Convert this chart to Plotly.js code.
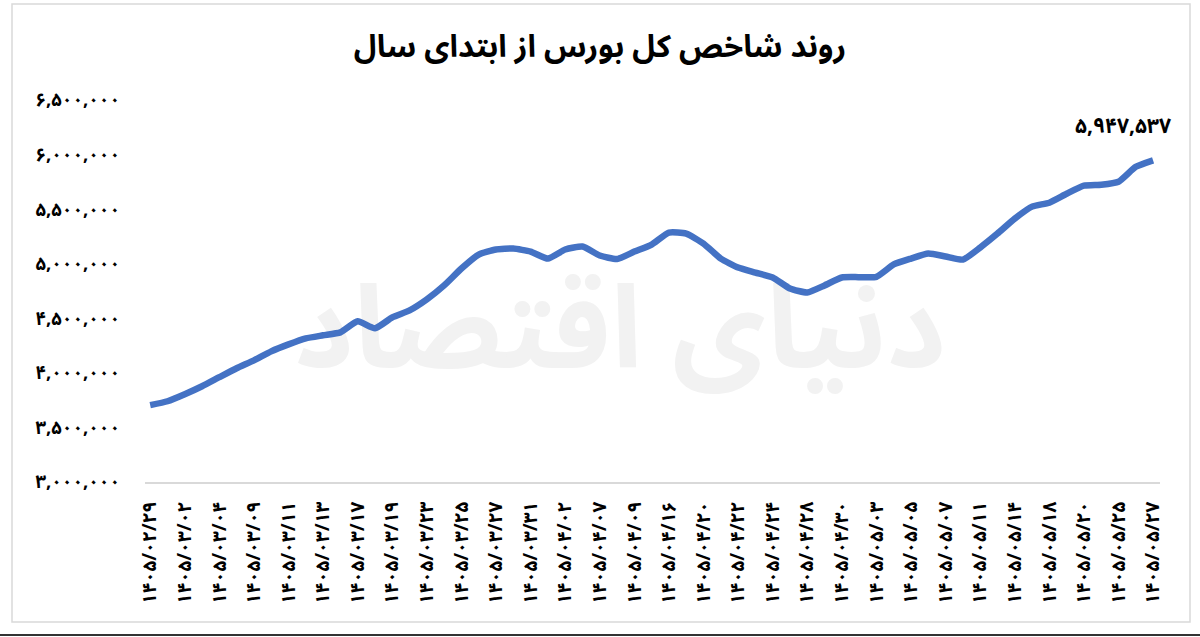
<!DOCTYPE html>
<html><head><meta charset="utf-8">
<script src="https://cdn.plot.ly/plotly-3.0.1.min.js"></script>
<style>
html,body{margin:0;padding:0;background:#fff;}
#wrap{position:relative;width:1200px;height:637px;overflow:hidden;}
#wm{position:absolute;left:620px;top:330px;transform:translate(-50%,-50%);font-family:"Noto Sans Arabic","DejaVu Sans",sans-serif;font-weight:bold;font-size:115px;color:#f2f2f2;direction:rtl;white-space:nowrap;}
#chart{position:absolute;left:0;top:0;width:1200px;height:637px;}
</style></head>
<body><div id="wrap"><div id="wm">دنیای اقتصاد</div><div id="chart"></div></div>
<script>
const dates = [
"1405/02/29","1405/03/01","1405/03/02","1405/03/03","1405/03/04","1405/03/06","1405/03/09","1405/03/10",
"1405/03/11","1405/03/12","1405/03/13","1405/03/16","1405/03/17","1405/03/18","1405/03/19","1405/03/20",
"1405/03/23","1405/03/24","1405/03/25","1405/03/26","1405/03/27","1405/03/30","1405/03/31","1405/04/01",
"1405/04/02","1405/04/06","1405/04/07","1405/04/08","1405/04/09","1405/04/13","1405/04/16","1405/04/17",
"1405/04/20","1405/04/21","1405/04/22","1405/04/23","1405/04/24","1405/04/27","1405/04/28","1405/04/29",
"1405/04/30","1405/05/01","1405/05/03","1405/05/04","1405/05/05","1405/05/06","1405/05/07","1405/05/10",
"1405/05/11","1405/05/13","1405/05/14","1405/05/17","1405/05/18","1405/05/19","1405/05/20","1405/05/24",
"1405/05/25","1405/05/26","1405/05/27"];
const indexValues = [
3704000,3740000,3804000,3877000,3960000,4042000,4115000,4197000,
4261000,4316000,4344000,4371000,4472000,4408000,4508000,4572000,
4673000,4801000,4956000,5084000,5130000,5139000,5111000,5047000,
5130000,5157000,5075000,5043000,5111000,5175000,5285000,5276000,
5184000,5047000,4965000,4919000,4874000,4773000,4737000,4801000,
4874000,4877000,4880000,4993000,5047000,5093000,5066000,5038000,
5148000,5276000,5413000,5523000,5559000,5641000,5715000,5724000,
5751000,5888000,5947537];
const yTickVals = [3000000,3500000,4000000,4500000,5000000,5500000,6000000,6500000];
const yTickText = ["۳,۰۰۰,۰۰۰","۳,۵۰۰,۰۰۰","۴,۰۰۰,۰۰۰","۴,۵۰۰,۰۰۰","۵,۰۰۰,۰۰۰","۵,۵۰۰,۰۰۰","۶,۰۰۰,۰۰۰","۶,۵۰۰,۰۰۰"];
const lastLabel = "۵,۹۴۷,۵۳۷";
const titleText = "روند شاخص کل بورس از ابتدای سال";

const fa = s => s.replace(/[0-9]/g, d => "۰۱۲۳۴۵۶۷۸۹"[+d]);
const cats = dates.map(fa);
const xTickVals = cats.filter((c, i) => i % 2 === 0);

const F = '"Noto Sans Arabic", "DejaVu Sans", sans-serif';
const trace = {
  x: cats, y: indexValues, type: 'scatter', mode: 'lines',
  line: {color: '#4472C4', width: 6.5, shape: 'spline', smoothing: 0.5},
  hoverinfo: 'skip'
};
const px = p => (p - 145) / 1015;
const py = p => (482 - p) / 382;
const layout = {
  width: 1200, height: 637,
  margin: {l: 145, r: 40, t: 100, b: 155},
  paper_bgcolor: 'rgba(0,0,0,0)', plot_bgcolor: 'rgba(0,0,0,0)',
  showlegend: false,
  title: {text: titleText, x: 0.5, xanchor: 'center', y: 0.927, yanchor: 'middle',
    font: {family: F, size: 31, color: '#000', weight: 'bold'}},
  xaxis: {type: 'category', range: [-0.3, 58.4], tickmode: 'array', tickvals: xTickVals,
    tickangle: -90, showgrid: false, zeroline: false, showline: true, linecolor: '#d9d9d9', linewidth: 2,
    ticks: '', ticklabelstandoff: 10, tickfont: {family: F, size: 19, color: '#000', weight: 'bold'}},
  yaxis: {range: [3000000, 6500000], tickmode: 'array', tickvals: yTickVals, ticktext: yTickText,
    showgrid: false, zeroline: false, showline: false, ticks: '', ticklabelstandoff: 24,
    tickfont: {family: F, size: 18.5, color: '#000', weight: 'bold'}},
  annotations: [{x: cats[cats.length - 1], y: indexValues[indexValues.length - 1], xref: 'x', yref: 'y',
    text: lastLabel, showarrow: false, xshift: -30, yshift: 34,
    font: {family: F, size: 21, color: '#000', weight: 'bold'}}],
  shapes: [
    {type: 'rect', xref: 'paper', yref: 'paper', x0: px(12), x1: px(1190), y0: py(622), y1: py(4),
     line: {color: '#d9d9d9', width: 1.5}, fillcolor: 'rgba(0,0,0,0)'},
    {type: 'line', xref: 'paper', yref: 'paper', x0: px(0), x1: px(1200), y0: py(635), y1: py(635),
     line: {color: '#333', width: 2}}
  ]
};
Plotly.newPlot('chart', [trace], layout, {displayModeBar: false, staticPlot: true});
</script>
</body></html>
